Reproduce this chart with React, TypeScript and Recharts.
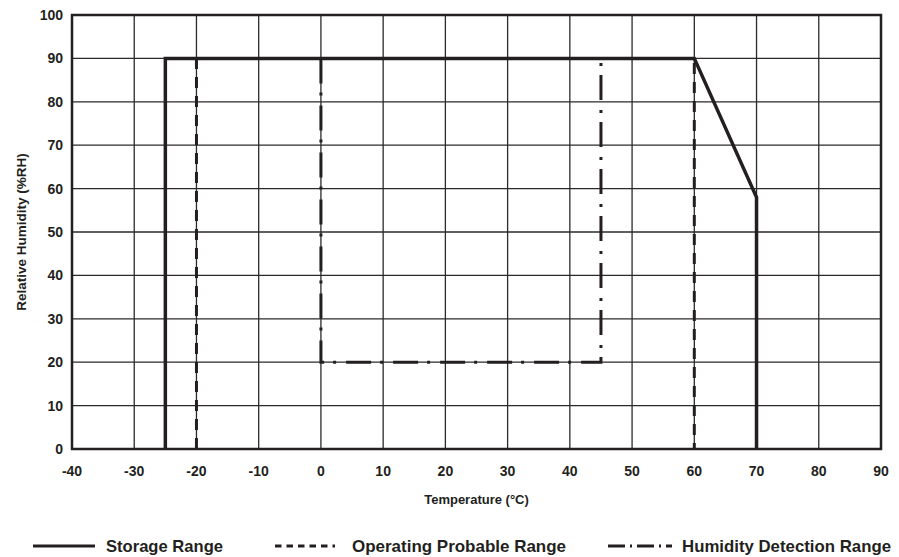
import React from "react";
import {
  LineChart,
  Line,
  XAxis,
  YAxis,
  CartesianGrid,
  ReferenceArea,
  Legend,
} from "recharts";

const xTicks = [-40, -30, -20, -10, 0, 10, 20, 30, 40, 50, 60, 70, 80, 90];
const yTicks = [0, 10, 20, 30, 40, 50, 60, 70, 80, 90, 100];

const storageRange = [
  { x: -25, y: 0 },
  { x: -25, y: 90 },
  { x: 60, y: 90 },
  { x: 70, y: 58 },
  { x: 70, y: 0 },
];

const operatingRange = [
  { x: -20, y: 0 },
  { x: -20, y: 90 },
  { x: 60, y: 90 },
  { x: 60, y: 0 },
];

const humidityRange = [
  { x: 0, y: 90 },
  { x: 0, y: 20 },
  { x: 45, y: 20 },
  { x: 45, y: 90 },
];

const seriesNames = ["Storage Range", "Operating Probable Range", "Humidity Detection Range"];

const FONT = '"Liberation Sans", Arial, sans-serif';
const INK = "#231f20";

const LegendContent = () => (
  <svg width={891} height={38} style={{ display: "block", overflow: "visible" }}>
    <g fontFamily={FONT} fontWeight="bold" fontSize={17} fill={INK}>
      <line x1={25} x2={87} y1={27} y2={27} stroke={INK} strokeWidth={3} />
      <text x={98} y={33} textLength={117} lengthAdjust="spacingAndGlyphs">{seriesNames[0]}</text>
      <line x1={267} x2={327} y1={27} y2={27} stroke={INK} strokeWidth={3} strokeDasharray="6.5 5" />
      <text x={344} y={33} textLength={214} lengthAdjust="spacingAndGlyphs">{seriesNames[1]}</text>
      <line x1={600} x2={664} y1={27} y2={27} stroke={INK} strokeWidth={3} strokeDasharray="17 5 2 5" />
      <text x={674} y={33} textLength={209} lengthAdjust="spacingAndGlyphs">{seriesNames[2]}</text>
    </g>
  </svg>
);

export default function App() {
  return (
    <LineChart
      width={891}
      height={549}
      margin={{ top: 7, right: 18, left: 0, bottom: 0 }}
    >
      <CartesianGrid stroke="#2a2a2a" strokeWidth={1.3} horizontalValues={yTicks} verticalValues={xTicks} />
      <XAxis
        type="number"
        dataKey="x"
        domain={[-40, 90]}
        ticks={xTicks}
        interval={0}
        axisLine={false}
        tickLine={false}
        tickSize={0}
        tickMargin={17}
        height={70}
        tick={{ fontFamily: FONT, fontWeight: "bold", fontSize: 14, fill: INK }}
        label={{
          value: "Temperature (°C)",
          position: "insideBottom",
          offset: 15,
          style: { fontFamily: FONT, fontWeight: "bold", fontSize: 13, fill: INK },
        }}
      />
      <YAxis
        type="number"
        dataKey="y"
        domain={[0, 100]}
        ticks={yTicks}
        interval={0}
        width={64}
        axisLine={false}
        tickLine={false}
        tickSize={0}
        tickMargin={9}
        tick={{ fontFamily: FONT, fontWeight: "bold", fontSize: 14, fill: INK }}
        label={{
          value: "Relative Humidity (%RH)",
          angle: -90,
          position: "insideLeft",
          offset: 13,
          style: { textAnchor: "middle", fontFamily: FONT, fontWeight: "bold", fontSize: 13.5, fill: INK },
        }}
      />
      <ReferenceArea
        x1={-40}
        x2={90}
        y1={0}
        y2={100}
        fill="none"
        stroke={INK}
        strokeWidth={2.5}
        ifOverflow="visible"
      />
      <Line
        data={operatingRange}
        dataKey="y"
        name={seriesNames[1]}
        type="linear"
        stroke={INK}
        strokeWidth={3}
        strokeDasharray="11 8"
        dot={false}
        activeDot={false}
        isAnimationActive={false}
      />
      <Line
        data={humidityRange}
        dataKey="y"
        name={seriesNames[2]}
        type="linear"
        stroke={INK}
        strokeWidth={3}
        strokeDasharray="25 9 3 10"
        dot={false}
        activeDot={false}
        isAnimationActive={false}
      />
      <Line
        data={storageRange}
        dataKey="y"
        name={seriesNames[0]}
        type="linear"
        stroke={INK}
        strokeWidth={3.5}
        strokeLinejoin="miter"
        dot={false}
        activeDot={false}
        isAnimationActive={false}
      />
      <Legend verticalAlign="bottom" height={38} content={LegendContent} />
    </LineChart>
  );
}
